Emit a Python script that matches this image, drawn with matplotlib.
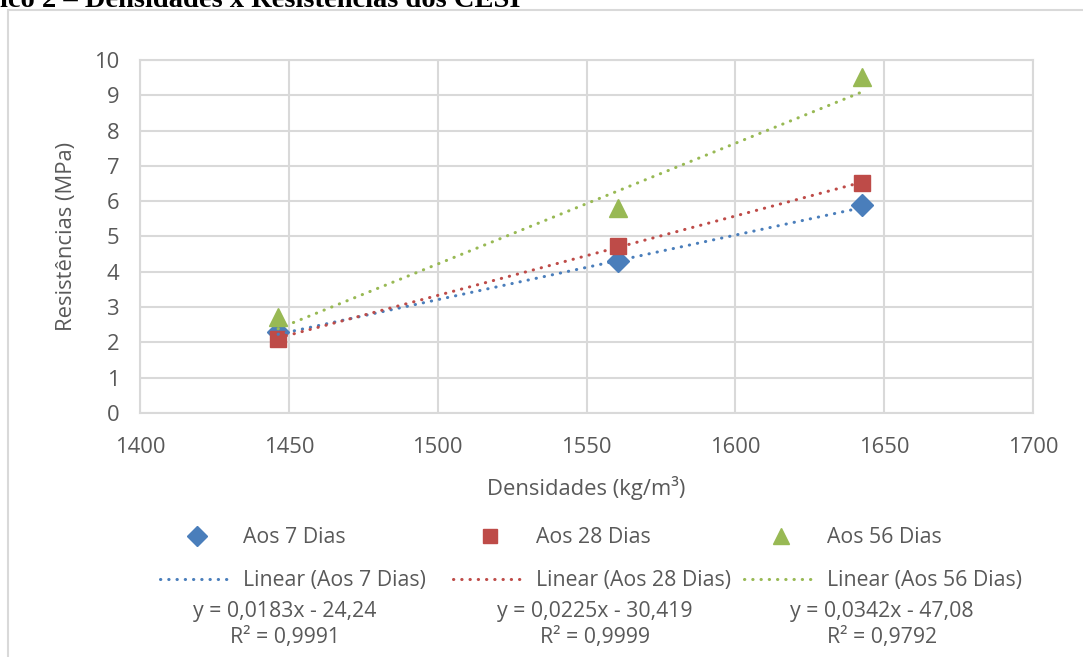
import matplotlib
matplotlib.use("Agg")
import matplotlib.pyplot as plt
from matplotlib.lines import Line2D
from matplotlib.patches import Rectangle
from matplotlib import font_manager
import numpy as np

# ---- data ----
densidades = [1446.4, 1560.6, 1642.5]
res_7 = [2.3, 4.31, 5.89]
res_28 = [2.1, 4.73, 6.52]
res_56 = [2.72, 5.8, 9.52]
series_labels = ["Aos 7 Dias", "Aos 28 Dias", "Aos 56 Dias"]
trend_labels = ["Linear (Aos 7 Dias)", "Linear (Aos 28 Dias)", "Linear (Aos 56 Dias)"]
slopes = [0.0183, 0.0225, 0.0342]
intercepts = [-24.24, -30.419, -47.08]
eq_texts = ["y = 0,0183x - 24,24", "y = 0,0225x - 30,419", "y = 0,0342x - 47,08"]
r2_texts = ["R² = 0,9991", "R² = 0,9999", "R² = 0,9792"]
x_ticks = [1400, 1450, 1500, 1550, 1600, 1650, 1700]
y_ticks = list(range(0, 11))
x_label = "Densidades (kg/m³)"
y_label = "Resistências (MPa)"
title_text = "ico 2 – Densidades x Resistências dos CESI"

colors = ["#4a7ebb", "#be4b48", "#98b954"]
markers = ["D", "s", "^"]
msizes = [11.5, 12, 13]

def pick(names):
    for n in names:
        try:
            font_manager.findfont(n, fallback_to_default=False)
            return n
        except Exception:
            pass
    return "DejaVu Sans"

sans = pick(["Open Sans", "Liberation Sans", "DejaVu Sans"])
serif = pick(["Liberation Serif", "DejaVu Serif"])
plt.rcParams["font.family"] = [sans, "DejaVu Sans"]

FS = 15.3
W, H = 1083, 657
fig = plt.figure(figsize=(W / 100, H / 100), dpi=100)

def fx(px):
    return px / W

def fy(py):
    return 1 - py / H

# outer chart border
fig.patches.append(Rectangle((fx(8), -0.1), 1.2, fy(10) + 0.1, transform=fig.transFigure,
                             fill=False, edgecolor="#d9d9d9", linewidth=1.5, zorder=0))

fig.text(0, fy(7), title_text, fontsize=20.5, fontweight="bold", family=serif,
         ha="left", va="baseline", color="black")

ax = fig.add_axes([fx(140), fy(413), fx(1033) - fx(140), fy(60) - fy(413)])
ax.set_xlim(1400, 1700)
ax.set_ylim(0, 10)
ax.set_xticks(x_ticks)
ax.set_yticks(y_ticks)
ax.grid(True, color="#d9d9d9", linewidth=1.5, zorder=0)
ax.set_axisbelow(True)
for s in ax.spines.values():
    s.set_color("#d9d9d9")
    s.set_linewidth(1.5)
ax.tick_params(length=0, labelsize=FS + 0.5, colors="#595959")
ax.tick_params(axis="x", pad=17)
ax.tick_params(axis="y", pad=15)
ax.set_xlabel(x_label, fontsize=FS + 0.5, color="#595959", labelpad=13)
ax.set_ylabel(y_label, fontsize=FS + 0.5, color="#595959", labelpad=12)

data = [res_7, res_28, res_56]
dot_style = (0, (0.1, 2.6))
marker_handles = []
line_handles = []
for i in range(3):
    xs = np.array([min(densidades), max(densidades)])
    ys = slopes[i] * xs + intercepts[i]
    ax.plot(xs, ys, color=colors[i], linestyle=dot_style, linewidth=2.2,
            dash_capstyle="round", zorder=4)
    ax.plot(densidades, data[i], linestyle="none", marker=markers[i], markersize=msizes[i],
            color=colors[i], zorder=3)
    marker_handles.append(Line2D([], [], linestyle="none", marker=markers[i],
                                 markersize=msizes[i] * 0.85, color=colors[i]))
    line_handles.append(Line2D([], [], color=colors[i], linestyle=dot_style, linewidth=2.2,
                               dash_capstyle="round"))

col_x = [160, 453, 744]
for i in range(3):
    leg = fig.legend([marker_handles[i], line_handles[i]], [series_labels[i], trend_labels[i]],
                     loc="upper left", bbox_to_anchor=(fx(col_x[i]), fy(527)),
                     frameon=False, fontsize=FS, labelcolor="#595959",
                     handlelength=3.5, handletextpad=0.4, borderpad=0, borderaxespad=0,
                     labelspacing=1.05)

eq_x = [285, 595, 882]
for i in range(3):
    fig.text(fx(eq_x[i]), fy(611), eq_texts[i], ha="center", va="center", fontsize=FS, color="#595959")
    fig.text(fx(eq_x[i]), fy(637), r2_texts[i], ha="center", va="center", fontsize=FS, color="#595959")

fig.savefig("out.png", dpi=100)
